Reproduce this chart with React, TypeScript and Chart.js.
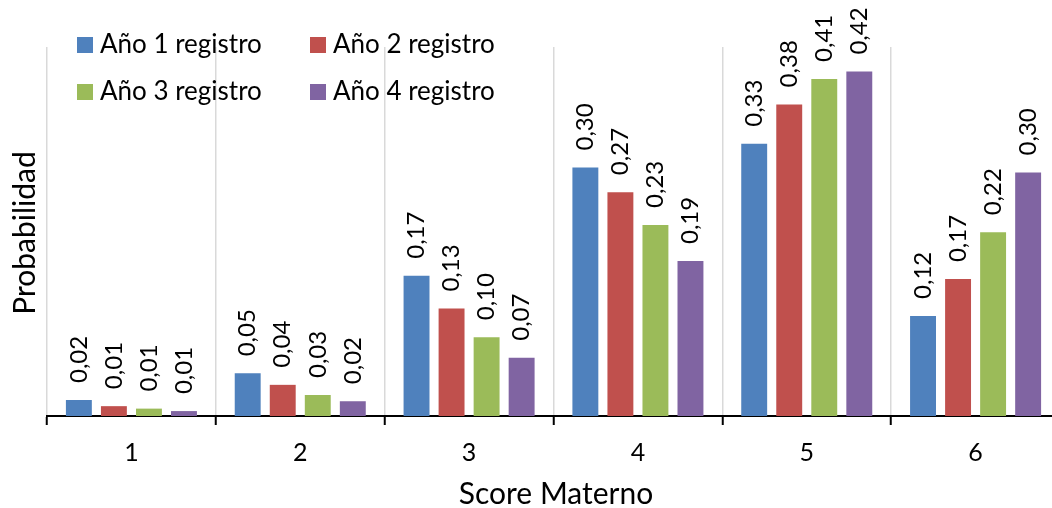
import React, { useEffect, useRef } from "react";
import { Chart, registerables } from "chart.js";

Chart.register(...registerables);

const categories = ["1", "2", "3", "4", "5", "6"];
const seriesNames = ["Año 1 registro", "Año 2 registro", "Año 3 registro", "Año 4 registro"];
const year1 = [0.0195, 0.052, 0.171, 0.303, 0.332, 0.122];
const year2 = [0.012, 0.038, 0.131, 0.273, 0.38, 0.167];
const year3 = [0.009, 0.0256, 0.096, 0.233, 0.411, 0.224];
const year4 = [0.006, 0.018, 0.071, 0.189, 0.42, 0.297];
const colors = ["#4F81BD", "#C0504D", "#9BBB59", "#8064A2"];
const xTitle = "Score Materno";
const yTitle = "Probabilidad";

const FONT = "Lato, 'Open Sans', sans-serif";

export default function App() {
  const ref = useRef<HTMLCanvasElement | null>(null);
  useEffect(() => {
    if (!ref.current) return;
    const values = [year1, year2, year3, year4];
    const labelPlugin = {
      id: "extras",
      afterDatasetsDraw(chart: any) {
        const ctx = chart.ctx;
        ctx.save();
        ctx.fillStyle = "#000";
        ctx.font = `24px ${FONT}`;
        chart.data.datasets.forEach((ds: any, i: number) => {
          const meta = chart.getDatasetMeta(i);
          meta.data.forEach((bar: any, j: number) => {
            const v = ds.data[j] as number;
            const txt = v.toFixed(2).replace(".", ",");
            ctx.save();
            ctx.translate(bar.x, bar.y - 17);
            ctx.rotate(-Math.PI / 2);
            ctx.textAlign = "left";
            ctx.textBaseline = "middle";
            ctx.fillText(txt, 0, 0);
            ctx.restore();
          });
        });
        // legend
        const legendPos = [
          [77, 37],
          [310, 37],
          [77, 84],
          [310, 84],
        ];
        ctx.font = `26px ${FONT}`;
        ctx.textAlign = "left";
        ctx.textBaseline = "middle";
        seriesNames.forEach((n, i) => {
          const [x, y] = legendPos[i];
          ctx.fillStyle = colors[i];
          ctx.fillRect(x, y, 16, 16);
          ctx.fillStyle = "#000";
          ctx.fillText(n, x + 23, y + 8);
        });
        // titles
        ctx.font = `30px ${FONT}`;
        ctx.textAlign = "center";
        ctx.textBaseline = "middle";
        ctx.fillText(xTitle, 556, 494);
        ctx.save();
        ctx.translate(25, 233);
        ctx.rotate(-Math.PI / 2);
        ctx.fillText(yTitle, 0, 0);
        ctx.restore();
        ctx.restore();
      },
    };
    const chart = new Chart(ref.current, {
      type: "bar",
      data: {
        labels: categories,
        datasets: values.map((d, i) => ({
          label: seriesNames[i],
          data: d,
          backgroundColor: colors[i],
          categoryPercentage: 0.83,
          barPercentage: 0.74,
        })),
      },
      options: {
        responsive: false,
        animation: false,
        layout: { padding: { top: 47, right: 2, left: 0, bottom: 0 } },
        plugins: { legend: { display: false }, tooltip: { enabled: false } },
        scales: {
          x: {
            offset: true,
            grid: {
              offset: true,
              color: "#d9d9d9",
              lineWidth: 1.5,
              tickColor: "#000",
              tickWidth: 2,
              tickLength: 9,
            },
            border: { color: "#000", width: 2 },
            ticks: { color: "#000", font: { family: FONT, size: 25 }, padding: 13 },
            afterFit: (s: any) => {
              s.height = 92;
            },
          },
          y: {
            min: 0,
            max: 0.45,
            ticks: { display: false },
            grid: { display: false },
            border: { display: false },
            afterFit: (s: any) => {
              s.width = 47;
            },
          },
        },
      },
      plugins: [labelPlugin],
    } as any);
    return () => chart.destroy();
  }, []);
  return (
    <div style={{ position: "fixed", left: 0, top: 0, width: 1062, height: 508, background: "#fff" }}>
      <canvas ref={ref} width={1062} height={508} />
    </div>
  );
}
